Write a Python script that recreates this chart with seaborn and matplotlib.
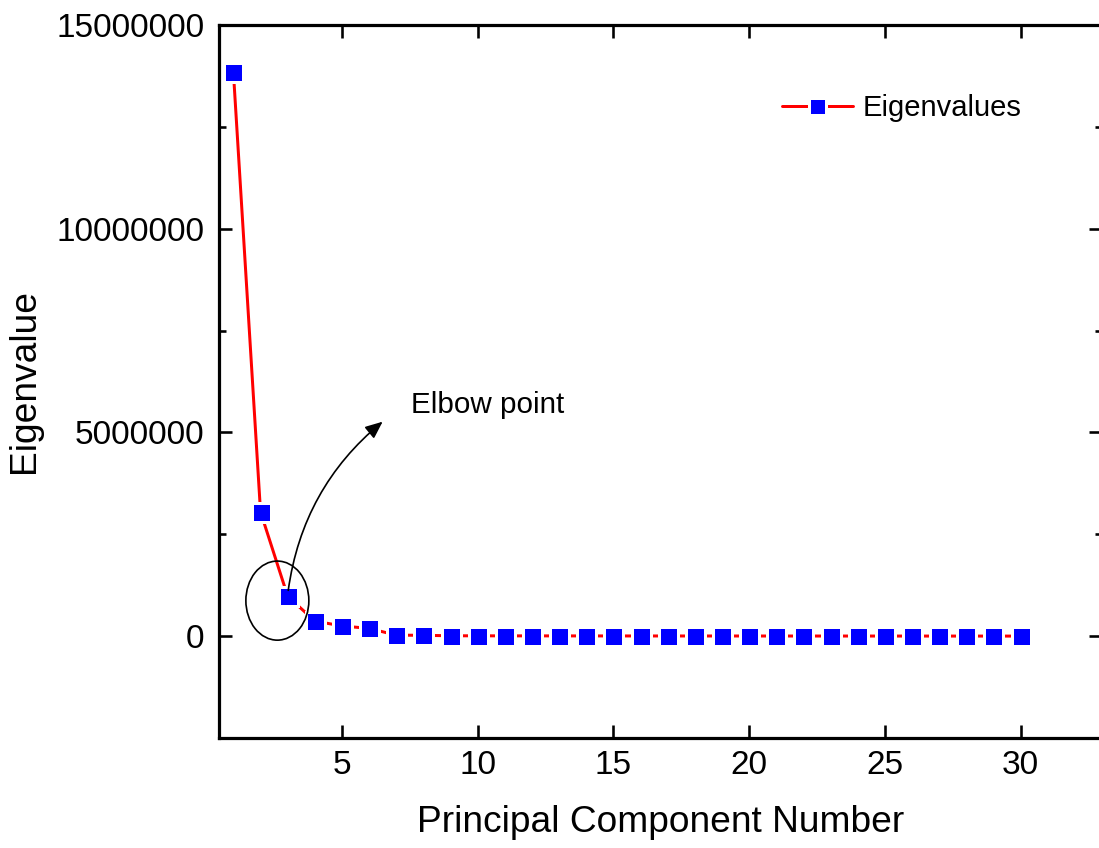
import matplotlib
matplotlib.use("Agg")
import matplotlib.pyplot as plt
import seaborn as sns
import pandas as pd
from matplotlib.lines import Line2D
from matplotlib.patches import Ellipse, FancyArrowPatch
from matplotlib.ticker import MultipleLocator, FuncFormatter, FixedLocator

components = list(range(1, 31))
eigenvalues = [13850000, 3050000, 980000, 370000, 250000, 190000, 25000, 20000,
               9000, 8000, 7000, 6500, 6000, 5500, 5000, 4500, 4200, 4000,
               3800, 3500, 3200, 3000, 2800, 2600, 2400, 2200, 2000, 1800,
               1600, 1400]
series_label = "Eigenvalues"
x_title = "Principal Component Number"
y_title = "Eigenvalue"
annotation_text = "Elbow point"
x_ticks = [5, 10, 15, 20, 25, 30]
y_ticks = [0, 5000000, 10000000, 15000000]

sns.set_style("ticks")
plt.rcParams["font.family"] = ["Liberation Sans", "DejaVu Sans"]
plt.rcParams["text.color"] = "black"
plt.rcParams["axes.labelcolor"] = "black"
plt.rcParams["xtick.color"] = "black"
plt.rcParams["ytick.color"] = "black"

df = pd.DataFrame({"pc": components, "ev": eigenvalues})

W, H = 1099, 848
fig = plt.figure(figsize=(W / 100, H / 100), dpi=100)
ax_l, ax_r, ax_t, ax_b = 219, 1102, 25, 738
ax = fig.add_axes([ax_l / W, 1 - ax_b / H, (ax_r - ax_l) / W, (ax_b - ax_t) / H])

px = 0.72  # points per pixel
sns.lineplot(data=df, x="pc", y="ev", ax=ax, color="#ff0000", linewidth=3.0 * px,
             marker="s", markersize=19 * px, markerfacecolor="#0000ff",
             markeredgecolor="white", markeredgewidth=3 * px, legend=False)

ax.set_xlim(0.47, 33.0)
ax.set_ylim(-2500000, 15000000)
ax.xaxis.set_major_locator(FixedLocator(x_ticks))
ax.yaxis.set_major_locator(FixedLocator(y_ticks))
ax.yaxis.set_minor_locator(MultipleLocator(2500000))
ax.yaxis.set_major_formatter(FuncFormatter(lambda v, p: f"{int(round(v))}"))

for s in ax.spines.values():
    s.set_linewidth(3.2 * px)
    s.set_color("black")

ax.tick_params(which="major", direction="in", length=13 * px, width=2.6 * px,
               top=True, right=True, labelsize=24, colors="black")
ax.tick_params(axis="x", which="major", pad=9)
ax.tick_params(axis="y", which="major", pad=10.5)
ax.tick_params(which="minor", direction="in", length=7 * px, width=2.6 * px,
               top=False, right=True, left=True)
ax.tick_params(axis="x", which="minor", bottom=False, top=False)

ax.set_xlabel(x_title, fontsize=26.7, color="black")
ax.set_ylabel(y_title, fontsize=26.7, color="black")
ax.xaxis.set_label_coords(0.5, -0.094)
ax.yaxis.set_label_coords(-0.2005, 0.5)

# annotation: ellipse + curved arrow + text
ell = Ellipse((2.62, 872000), width=2.32, height=1941000, fill=False,
              edgecolor="black", linewidth=1.2, zorder=5)
ax.add_patch(ell)
arr = FancyArrowPatch((3.007, 1057000), (6.578, 5307000),
                      connectionstyle="arc3,rad=-0.2",
                      arrowstyle="-|>,head_length=0.7,head_width=0.3",
                      mutation_scale=15, color="black", linewidth=1.2, zorder=6)
ax.add_patch(arr)
ax.text(7.535, 5479000, annotation_text, fontsize=21.3, ha="left", va="baseline",
        color="black")

# legend
handle = Line2D([], [], color="#ff0000", linewidth=3.0 * px, marker="s",
                markersize=17 * px, markerfacecolor="#0000ff",
                markeredgecolor="white", markeredgewidth=3 * px)
leg = fig.legend(handles=[handle], labels=[series_label], loc="center left",
                 bbox_to_anchor=(782 / W, 1 - 108 / H), frameon=False, fontsize=21,
                 borderpad=0, borderaxespad=0, handlelength=2.43, handletextpad=0.34)
for t in leg.get_texts():
    t.set_color("black")

fig.savefig("out.png", dpi=100)
